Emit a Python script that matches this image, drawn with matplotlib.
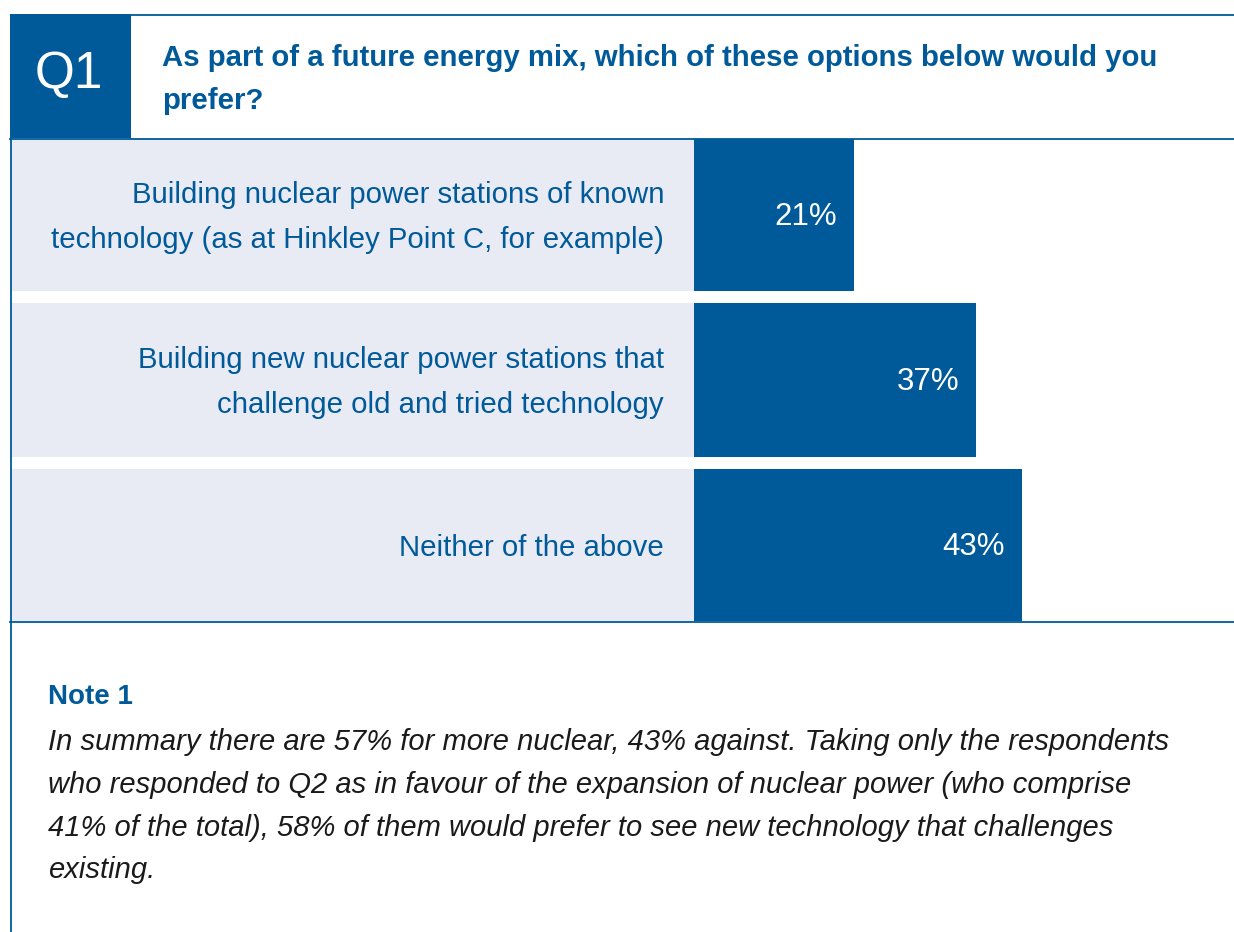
import matplotlib.pyplot as plt
from matplotlib.patches import Rectangle

# данные опроса
labels = ['Building nuclear power stations of known\ntechnology (as at Hinkley Point C, for example)',
          'Building new nuclear power stations that\nchallenge old and tried technology',
          'Neither of the above']
values = [21, 37, 43]
question = 'As part of a future energy mix, which of these options below would you\nprefer?'
note_title = 'Note 1'
note_text = ('In summary there are 57% for more nuclear, 43% against. Taking only the respondents\n'
             'who responded to Q2 as in favour of the expansion of nuclear power (who comprise\n'
             '41% of the total), 58% of them would prefer to see new technology that challenges\n'
             'existing.')

blue = '#005a9a'
grey = '#e9ebf4'
W, H = 1234, 932
plt.rcParams['font.family'] = ['Liberation Sans', 'DejaVu Sans']

fig = plt.figure(figsize=(W / 100, H / 100), dpi=100)

# фон в пикселях
bg = fig.add_axes([0, 0, 1, 1])
bg.set_xlim(0, W)
bg.set_ylim(H, 0)
bg.axis('off')

# шапка с номером вопроса
bg.add_patch(Rectangle((10, 14), 121, 124, color=blue, lw=0))
bg.text(69, 75, 'Q1', color='white', fontsize=37, ha='center', va='center')
bg.text(162, 79.5, question, color=blue, fontsize=21.2, fontweight='bold',
        ha='left', va='center', linespacing=1.68)
bg.plot([131, W], [14.5, 14.5], color=blue, lw=1.3)
bg.plot([10, W], [138.5, 138.5], color=blue, lw=1.3)
bg.plot([10, W], [621.5, 621.5], color=blue, lw=1.3)
bg.plot([10.5, 10.5], [138, H], color=blue, lw=1.3)

# строки с подписями
row_top = [139, 303, 469]
row_h = [152, 154, 152]
for top, h, lab in zip(row_top, row_h, labels):
    bg.add_patch(Rectangle((11, top), 683, h, color=grey, lw=0))
    bg.text(664, top + h / 2 + 2.5, lab, color=blue, fontsize=21.2, ha='right', va='center',
            linespacing=1.74)

# примечание
bg.text(48, 697, note_title, color=blue, fontsize=20, fontweight='bold', ha='left', va='center')
bg.text(48, 728.5, note_text, color='#1a1a1a', fontsize=21, style='italic', ha='left', va='top',
        linespacing=1.66)

# столбцы
ax = fig.add_axes([694 / W, 1 - 621 / H, (W - 694) / W, (621 - 139) / H])
ax.set_xlim(0, (W - 694) / 7.62)
ax.set_ylim(621, 139)
ax.axis('off')
ax.patch.set_alpha(0)
centers = [t + h / 2 for t, h in zip(row_top, row_h)]
ax.barh(centers, values, height=row_h, color=blue, lw=0)
for c, v in zip(centers, values):
    ax.text(v - 2.2, c + 2, f'{v}%', color='white', fontsize=22.5, ha='right', va='center')

fig.savefig('out.png', dpi=100)
